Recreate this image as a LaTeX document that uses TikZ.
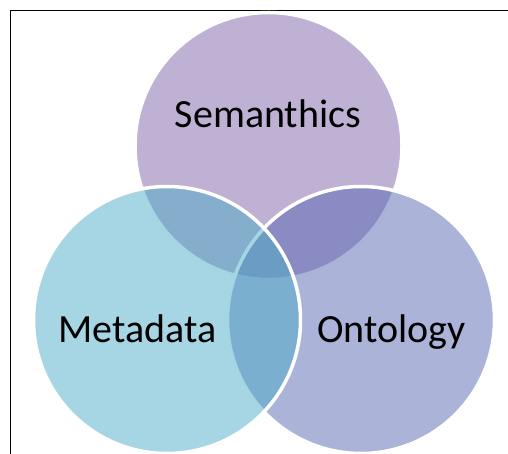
\documentclass[tikz,border=0pt]{standalone}
\usepackage{fontspec}
\setmainfont{Carlito}
\definecolor{semc}{RGB}{127,99,167}
\definecolor{metc}{RGB}{77,173,199}
\definecolor{ontc}{RGB}{87,103,179}
\begin{document}
\begin{tikzpicture}[x=1pt,y=-1pt,
  venn/.style={circle,minimum size=267pt,inner sep=0pt,draw=white,line width=3.5pt,fill opacity=0.5,draw opacity=1},
  lbl/.style={font=\fontsize{40}{42}\selectfont,anchor=base,text=black,inner sep=0pt}]
\useasboundingbox (0,0) rectangle (508,454);
\draw[line width=1pt] (508,11) -- (10.5,11) -- (10.5,454);
\node[venn,fill=semc] (sem) at (268.5,146) {};
\node[venn,fill=ontc] (ont) at (361,320) {};
\node[venn,fill=metc] (met) at (167,320) {};
\node[lbl] (semt) at (268,128) {Semanthics};
\node[lbl] (mett) at (137.5,342) {Metadata};
\node[lbl] (ontt) at (391.5,342) {Ontology};
\end{tikzpicture}
\end{document}
